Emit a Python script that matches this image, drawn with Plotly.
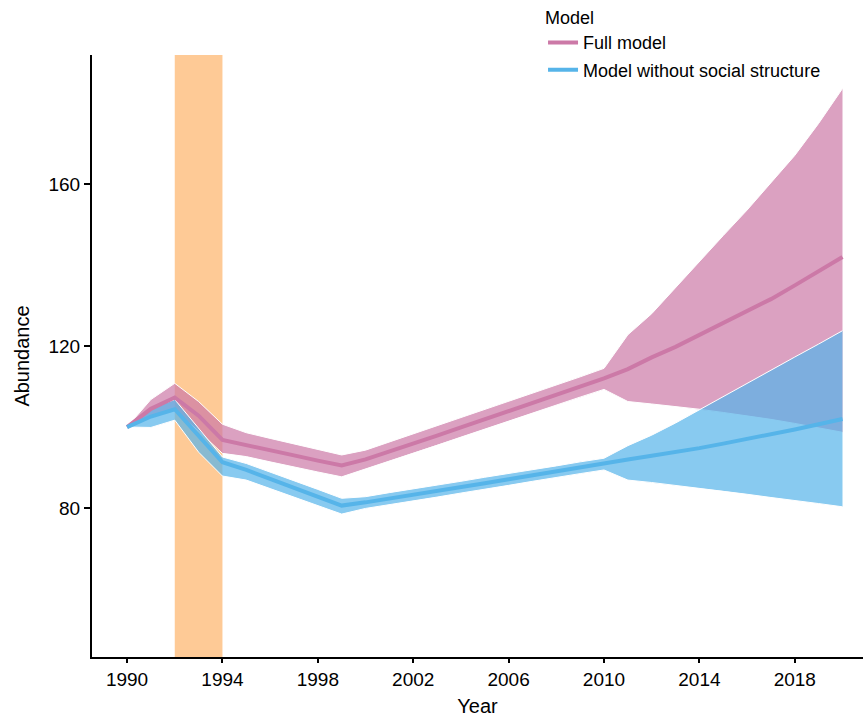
import plotly.graph_objects as go

years = list(range(1990, 2021))

full_mid = [100.0, 104.5, 107.3, 102.8, 96.8, 95.6, 94.3, 93.0, 91.7, 90.5,
            92.0, 93.9, 95.9, 97.9, 99.9, 101.9, 103.9, 105.9, 107.9, 110.0,
            112.0, 114.3, 117.2, 119.8, 122.7, 125.6, 128.6, 131.6, 135.0, 138.4, 142.0]
full_hi = [100.0, 106.8, 110.8, 106.3, 100.7, 98.6, 97.2, 95.8, 94.4, 93.1,
           94.3, 96.3, 98.3, 100.3, 102.3, 104.3, 106.3, 108.3, 110.3, 112.4,
           114.5, 122.8, 128.0, 134.5, 140.8, 147.3, 153.6, 160.3, 167.1, 175.0, 183.6]
full_lo = [100.0, 102.5, 104.0, 99.0, 93.5, 92.7, 91.4, 90.1, 88.9, 87.7,
           89.6, 91.5, 93.5, 95.5, 97.5, 99.5, 101.5, 103.5, 105.4, 107.4,
           109.3, 106.3, 105.7, 105.1, 104.4, 103.6, 102.8, 101.9, 100.9, 99.8, 98.7]

nss_mid = [100.0, 102.6, 104.4, 97.8, 91.3, 89.4, 87.2, 85.0, 82.8, 80.6,
           81.4, 82.3, 83.3, 84.2, 85.2, 86.1, 87.1, 88.1, 89.0, 90.1,
           91.2, 92.0, 92.9, 93.8, 94.8, 95.9, 97.0, 98.2, 99.4, 100.7, 102.0]
nss_hi = [100.0, 104.7, 106.8, 99.8, 92.6, 91.0, 88.9, 86.7, 84.6, 82.4,
          82.8, 83.8, 84.7, 85.7, 86.6, 87.6, 88.5, 89.5, 90.4, 91.4,
          92.3, 95.4, 98.0, 101.0, 104.3, 107.6, 110.9, 114.1, 117.3, 120.5, 123.8]
nss_lo = [100.0, 99.9, 101.7, 93.8, 87.9, 86.9, 84.8, 82.7, 80.6, 78.5,
          79.9, 80.8, 81.8, 82.7, 83.7, 84.6, 85.6, 86.6, 87.6, 88.5,
          89.4, 86.9, 86.3, 85.6, 84.9, 84.2, 83.4, 82.6, 81.9, 81.1, 80.3]

highlight_years = [1992, 1994]
x_ticks = [1990, 1994, 1998, 2002, 2006, 2010, 2014, 2018]
y_ticks = [80, 120, 160]

series = [
    ("Full model", full_mid, full_hi, full_lo, "#CC79A7", "rgba(204,121,167,0.7)"),
    ("Model without social structure", nss_mid, nss_hi, nss_lo, "#56B4E9", "rgba(86,180,233,0.7)"),
]

fig = go.Figure()

for name, mid, hi, lo, col, fillcol in series:
    fig.add_trace(go.Scatter(
        x=years + years[::-1], y=hi + lo[::-1], fill="toself", fillcolor=fillcol,
        mode="lines", line=dict(width=0), hoverinfo="skip", showlegend=False))
    for edge in (hi, lo):
        fig.add_trace(go.Scatter(
            x=years, y=edge, mode="lines", line=dict(color="white", width=1),
            hoverinfo="skip", showlegend=False))

for name, mid, hi, lo, col, fillcol in series:
    fig.add_trace(go.Scatter(
        x=years, y=mid, mode="lines", name=name, legendgroup=name,
        line=dict(color=col, width=4)))

fig.add_shape(type="rect", xref="x", yref="paper",
              x0=highlight_years[0], x1=highlight_years[1], y0=0, y1=1,
              fillcolor="#FECA96", line=dict(width=0), layer="below")

fig.update_layout(
    width=863, height=718,
    margin=dict(l=92, r=0, t=55, b=61),
    plot_bgcolor="white", paper_bgcolor="white",
    font=dict(family="Liberation Sans, Arial, sans-serif", size=19, color="black"),
    legend=dict(title=dict(text="Model", font=dict(size=18)), font=dict(size=18),
                x=0.585, xanchor="left", y=1.09, yanchor="top",
                bgcolor="rgba(0,0,0,0)", tracegroupgap=1, itemwidth=30),
    xaxis=dict(range=[1988.53, 2020.86], tickvals=x_ticks, showline=True,
               linecolor="black", linewidth=2, ticks="outside", ticklen=4,
               tickwidth=1.5, tickcolor="black", showgrid=False, zeroline=False,
               title=dict(text="Year", font=dict(size=20), standoff=10)),
    yaxis=dict(range=[43.2, 191.9], tickvals=y_ticks, showline=True,
               linecolor="black", linewidth=2, ticks="outside", ticklen=6,
               tickwidth=1.5, tickcolor="black", showgrid=False, zeroline=False,
               title=dict(text="Abundance", font=dict(size=20), standoff=13)),
)

fig.write_html("out.html", config={"displayModeBar": False},
               post_script="document.body.style.margin='0';document.body.style.overflow='hidden';")
